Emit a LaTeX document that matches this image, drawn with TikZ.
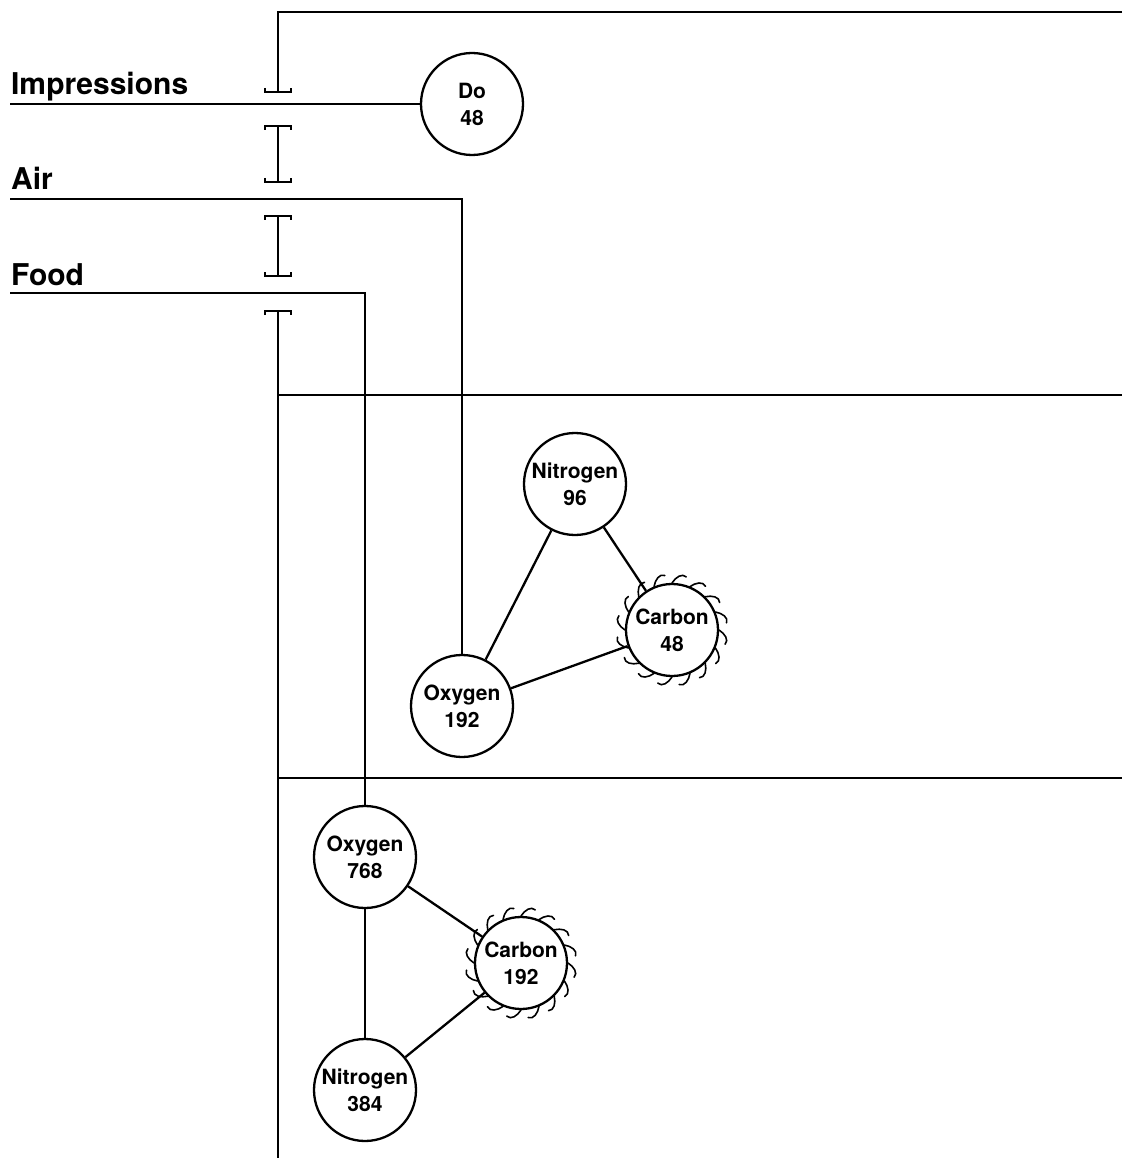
\documentclass[tikz,border=0pt]{standalone}
\usepackage{fontspec}
\setmainfont{TeX Gyre Heros}
\begin{document}
\begin{tikzpicture}[x=1pt,y=1pt,line width=2.3pt,
  atom/.style={circle,draw,line width=2.3pt,minimum size=102pt,inner sep=0pt,align=center,
    font=\bfseries\fontsize{21}{27}\selectfont},
  carb/.style={atom,minimum size=92pt},
  lbl/.style={anchor=base west,inner sep=0pt,font=\bfseries\fontsize{30}{36}\selectfont},
  hook/.style={line width=1.6pt,line cap=round}]
\useasboundingbox (0,0) rectangle (1122,-1158);

% labels
\node[lbl] (limp) at (10,-95) {Impressions};
\node[lbl] (lair) at (10,-190) {Air};
\node[lbl] (lfood) at (10,-285) {Food};

% atoms
\node[atom] (do) at (472,-104) {Do\\48};
\node[atom] (n96) at (575,-484) {Nitrogen\\96};
\node[carb] (c48) at (672,-630) {Carbon\\48};
\node[atom] (o192) at (462,-706) {Oxygen\\192};
\node[atom] (o768) at (365,-857) {Oxygen\\768};
\node[carb] (c192) at (521,-963) {Carbon\\192};
\node[atom] (n384) at (365,-1090) {Nitrogen\\384};

% hooks round carbon
\foreach \c in {c48,c192}{
  \begin{scope}[shift={(\c.center)}]
    \foreach \a in {0,22.5,...,337.5}{
      \draw[hook] ({\a}:47) .. controls ({\a-4}:53) and ({\a-10}:58) .. ({\a-15}:55);
    }
  \end{scope}
}

% coordinates
\coordinate (i0) at (10,-104);
\coordinate (a0) at (10,-199);
\coordinate (a1) at (462,-199);
\coordinate (f0) at (10,-293);
\coordinate (f1) at (365,-293);
\coordinate (t0) at (1122,-12);
\coordinate (t1) at (278,-12);
\coordinate (t2) at (278,-92);
\coordinate (v0) at (278,-311);
\coordinate (v1) at (278,-1158);
\coordinate (h1a) at (278,-395);
\coordinate (h1b) at (1122,-395);
\coordinate (h2a) at (278,-778);
\coordinate (h2b) at (1122,-778);

% main lines
\draw (i0) -- (do);
\draw (a0) -- (a1) -- (o192);
\draw (f0) -- (f1) -- (o768);
\draw (t0) -- (t1) -- (t2);
\draw (v0) -- (v1);
\draw (h1a) -- (h1b);
\draw (h2a) -- (h2b);

% beams
\draw[line width=2pt] (265,-88) -- (265,-92) -- (291,-92) -- (291,-88);
\draw[line width=2pt] (265,-130) -- (265,-126) -- (291,-126) -- (291,-130);
\draw[line width=2pt] (265,-178) -- (265,-182) -- (291,-182) -- (291,-178);
\draw (278,-126) -- (278,-182);
\draw[line width=2pt] (265,-220) -- (265,-216) -- (291,-216) -- (291,-220);
\draw[line width=2pt] (265,-272) -- (265,-276) -- (291,-276) -- (291,-272);
\draw (278,-216) -- (278,-276);
\draw[line width=2pt] (265,-315) -- (265,-311) -- (291,-311) -- (291,-315);

% bonds
\draw (n96) -- (o192);
\draw (n96) -- (c48);
\draw (o192) -- (c48);
\draw (o768) -- (c192);
\draw (o768) -- (n384);
\draw (n384) -- (c192);
\end{tikzpicture}
\end{document}
